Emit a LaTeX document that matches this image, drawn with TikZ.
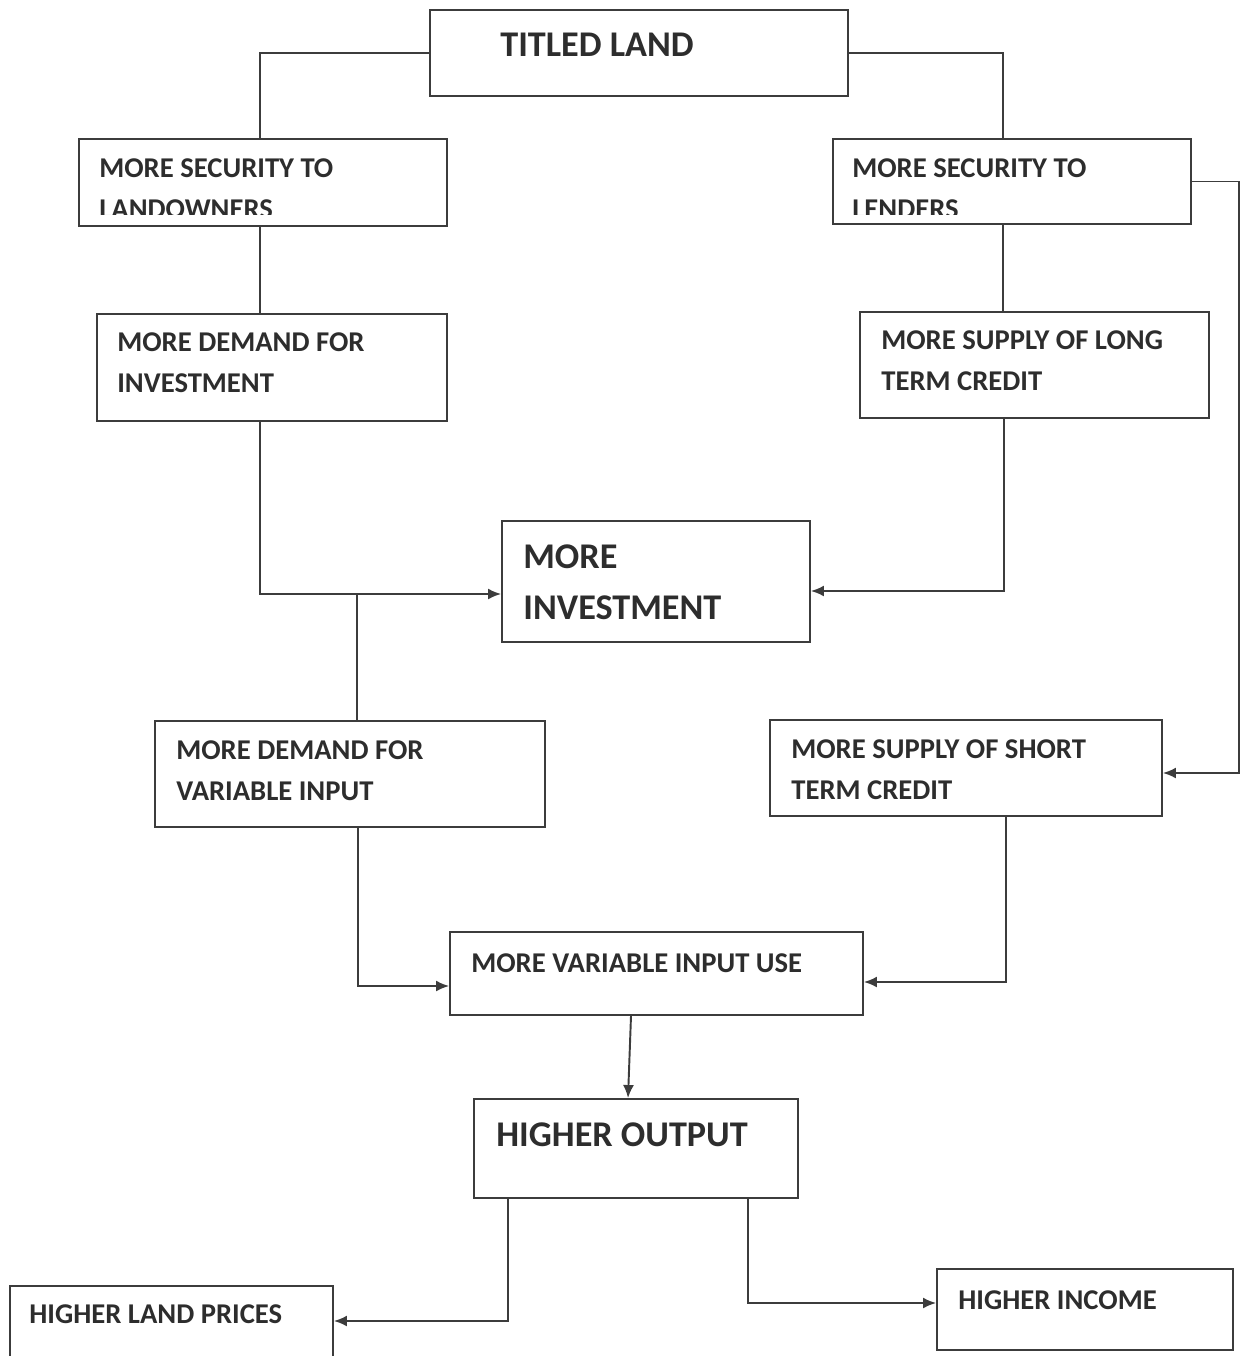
\documentclass[tikz,border=0pt]{standalone}
\usepackage{fontspec}
\setmainfont{Carlito}
\usetikzlibrary{arrows.meta,positioning,calc}
\definecolor{linec}{RGB}{60,60,60}
\definecolor{textc}{RGB}{45,45,45}
\newcommand{\smallfont}{\fontsize{16.3}{23.3}\selectfont\bfseries}
\newcommand{\bigfont}{\fontsize{20.6}{29}\selectfont\bfseries}

\begin{document}
\begin{tikzpicture}[x=0.02cm, y=-0.02cm,
  box/.style={draw=linec, line width=1.1pt, inner sep=0pt},
  txt/.style={anchor=north west, inner sep=0pt, align=left, text=textc, font=\smallfont},
  bigtxt/.style={txt, font=\bigfont},
  conn/.style={draw=linec, line width=1.1pt},
  arr/.style={conn, -{Latex[length=2.6mm,width=2.2mm]}}
]
\useasboundingbox (0,0) rectangle (1241,1356);
\clip (0,0) rectangle (1241,1356);

% Boxes.
\node[box, minimum width=8.36cm, minimum height=1.72cm] (title) at (639,53) {};
\node[box, minimum width=7.36cm, minimum height=1.74cm] (secown) at (263,182.5) {};
\node[box, minimum width=7.16cm, minimum height=1.70cm] (seclen) at (1012,181.5) {};
\node[box, minimum width=7.00cm, minimum height=2.14cm] (deminv) at (272,367.5) {};
\node[box, minimum width=6.98cm, minimum height=2.12cm] (longcr) at (1034.5,365) {};
\node[box, minimum width=6.16cm, minimum height=2.42cm] (moreinv) at (656,581.5) {};
\node[box, minimum width=7.80cm, minimum height=2.12cm] (demvar) at (350,774) {};
\node[box, minimum width=7.84cm, minimum height=1.92cm] (shortcr) at (966,768) {};
\node[box, minimum width=8.26cm, minimum height=1.66cm] (varuse) at (656.5,973.5) {};
\node[box, minimum width=6.48cm, minimum height=1.98cm] (output) at (636,1148.5) {};
\node[box, minimum width=6.46cm, minimum height=1.76cm] (landpr) at (171.5,1330) {};
\node[box, minimum width=5.92cm, minimum height=1.62cm] (income) at (1085,1309.5) {};

% Texts.
\node[bigtxt] (t-title) at (500,33) {TITLED LAND};
\begin{scope}
  \clip (secown.north west) rectangle ([yshift=0.25cm]secown.south east);
  \node[txt] (t-secown) at (99,158) {MORE SECURITY TO\\LANDOWNERS};
\end{scope}
\begin{scope}
  \clip (seclen.north west) rectangle ([yshift=0.21cm]seclen.south east);
  \node[txt] (t-seclen) at (852,158) {MORE SECURITY TO\\LENDERS};
\end{scope}
\node[txt] (t-deminv) at (117,332) {MORE DEMAND FOR\\INVESTMENT};
\node[txt] (t-longcr) at (881,330) {MORE SUPPLY OF LONG\\TERM CREDIT};
\node[bigtxt] (t-moreinv) at (523,544) {MORE\\INVESTMENT};
\node[txt] (t-demvar) at (176,740) {MORE DEMAND FOR\\VARIABLE INPUT};
\node[txt] (t-shortcr) at (791,739) {MORE SUPPLY OF SHORT\\TERM CREDIT};
\node[txt] (t-varuse) at (471,953) {MORE VARIABLE INPUT USE};
\node[bigtxt] (t-output) at (496,1122) {HIGHER OUTPUT};
\node[txt] (t-landpr) at (29,1304) {HIGHER LAND PRICES};
\node[txt] (t-income) at (958,1290) {HIGHER INCOME};

% Trunk lines and junctions.
\coordinate (lx) at (260,0);
\coordinate (rx) at (1003,0);
\coordinate (jl) at (357,594);
\coordinate (jr) at (1004,591);
\coordinate (ff) at (1239,773);
\coordinate (jv) at (358,986);
\coordinate (js) at (1006,982);
\coordinate (jo1) at (508,1321);
\coordinate (jo2) at (748,1303);

\draw[conn] (title.west) -| (secown.north -| lx);
\draw[conn] (title.east) -| (seclen.north -| rx);
\draw[conn] (secown.south -| lx) -- (deminv.north -| lx);
\draw[conn] (seclen.south -| rx) -- (longcr.north -| rx);
\draw[arr] (deminv.south -| lx) |- (jl -| moreinv.west);
\draw[arr] (longcr.south -| jr) |- (jr -| moreinv.east);
\draw[conn] (jl) -- (jl |- demvar.north);
\draw[arr] (seclen.east) -| (ff) -- (ff -| shortcr.east);
\draw[arr] (demvar.south -| jv) |- (jv -| varuse.west);
\draw[arr] (shortcr.south -| js) |- (js -| varuse.east);
\draw[arr] ([xshift=-0.51cm]varuse.south) -- ([xshift=-0.16cm]output.north);
\draw[arr] (output.south -| jo1) |- (jo1 -| landpr.east);
\draw[arr] (output.south -| jo2) |- (jo2 -| income.west);

\end{tikzpicture}
\end{document}
